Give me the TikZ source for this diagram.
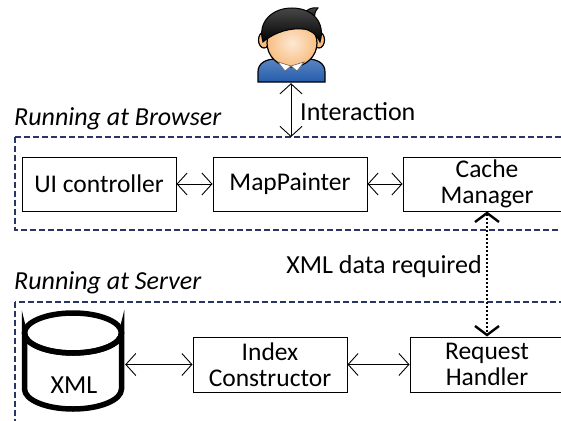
\documentclass[tikz,border=0pt]{standalone}
\usepackage{fontspec}
\setmainfont{Carlito}
\usepackage{tikz}
\usetikzlibrary{arrows.meta}
\definecolor{navy}{RGB}{40,54,102}
\definecolor{skin}{RGB}{248,190,130}
\definecolor{shirt}{RGB}{36,92,172}
\tikzstyle{module} = [draw=black, line width=1pt, rectangle, fill=white, minimum height=55pt, align=center, inner sep=0pt, font=\fontsize{25.5}{25.5}\selectfont]
\tikzstyle{note} = [inner sep=0pt, font=\fontsize{26}{25}\selectfont]
\tikzstyle{link} = [line width=0.9pt, {Straight Barb[length=10pt,width=22pt]}-{Straight Barb[length=10pt,width=22pt]}]
\tikzstyle{hint} = [line width=2pt, dotted, {Straight Barb[length=9pt,width=24pt,line width=2.4pt]}-{Straight Barb[length=9pt,width=24pt,line width=2.4pt]}]
\tikzstyle{region} = [draw=navy, line width=1.6pt, dash pattern=on 6pt off 3pt]

\begin{document}
\begin{tikzpicture}[x=1pt,y=-1pt]
			\useasboundingbox (0,0) rectangle (561,420);
			\clip (0,0) rectangle (561,420);
			% regions
			\draw[region] (15,137) rectangle (600,230);
			\draw[region] (15,302) rectangle (600,460);
			\node[note, anchor=west] at (14,119) {\itshape Running at Browser};
			\node[note, anchor=west] at (14,283) {\itshape Running at Server};
			% user
			\coordinate (user) at (291,45);
			\coordinate (browsertop) at (291,137);
			% browser side
			\coordinate (ui) at (99,184);
			\coordinate (painter) at (290,184);
			\coordinate (cache) at (487,184);
			% server side
			\coordinate (xml) at (73.5,364.5);
			\coordinate (index) at (270,364.5);
			\coordinate (handler) at (487,364.5);
			\node[name=user, minimum width=70pt, minimum height=76pt, inner sep=0pt] at (user) {};
			\begin{scope}[every node/.style={module, minimum width=154pt, minimum height=54pt}]
			\node[name=ui] at (ui) {UI controller};
			\node[name=painter] at (painter) {MapPainter};
			\end{scope}
			\begin{scope}[every node/.style={module, minimum width=168pt, minimum height=54pt}]
			\node[name=cache] at (cache) {Cache\\Manager};
			\end{scope}
			\begin{scope}[every node/.style={module, minimum width=154pt}]
			\node[name=index] at (index) {Index\\Constructor};
			\node[name=handler] at (handler) {Request\\Handler};
			\end{scope}
			% database
			\node[name=xml, minimum width=103pt, minimum height=100pt, inner sep=0pt] at (xml) {};
			\filldraw[draw=black, fill=white, line width=5.5pt] (24.5,333) -- (24.5,389) arc[start angle=180, end angle=0, x radius=48.5, y radius=20] -- (121.5,333) arc[start angle=0, end angle=180, x radius=48.5, y radius=20] -- cycle;
			\draw[line width=5.5pt] (73,333) ellipse [x radius=48.5, y radius=20];
			\node[note] at (74,385) {XML};
			% person
			\shadedraw[draw=black, line width=1.2pt, top color=shirt!75!white, bottom color=shirt] (258,82) -- (258,72) .. controls (258,63) and (266,59) .. (276,59) -- (307,59) .. controls (317,59) and (325,63) .. (325,72) -- (325,82) -- cycle;
			\filldraw[draw=black, line width=1.2pt, fill=skin] (264,40) ellipse [x radius=5.5, y radius=8];
			\filldraw[draw=black, line width=1.2pt, fill=skin] (319,40) ellipse [x radius=5.5, y radius=8];
			\shadedraw[draw=black, line width=1.2pt, inner color=skin!35!white, outer color=skin] (292,43) ellipse [x radius=25, y radius=24];
			\filldraw[draw=black!60, line width=0.6pt, fill=white] (278,62) -- (291,66) -- (285,71) -- cycle;
			\filldraw[draw=black!60, line width=0.6pt, fill=white] (304,62) -- (291,66) -- (297,71) -- cycle;
			\shadedraw[draw=black, line width=1pt, top color=black!70, bottom color=black] (302,15) .. controls (307,9) and (312,7) .. (318,8) .. controls (315,11) and (314,15) .. (315,20) -- cycle;
			\shadedraw[draw=black, line width=1pt, top color=black!72, bottom color=black] (263,42) .. controls (257,22) and (272,8) .. (292,8) .. controls (312,8) and (326,22) .. (320,42) .. controls (316,34) and (310,29) .. (302,29) .. controls (292,28) and (276,31) .. cycle;
			% connectors
			\draw[link] (user.south) -- (browsertop);
			\node[note, anchor=west] at (300,112) {Interaction};
			\draw[link] (ui) -- (painter);
			\draw[link] (painter) -- (cache);
			\draw[link] (xml) -- (index);
			\draw[link] (index) -- (handler);
			\draw[hint] (cache) -- (handler);
			\node[note, anchor=east] at (482,267) {XML data required};
\end{tikzpicture}
\end{document}
